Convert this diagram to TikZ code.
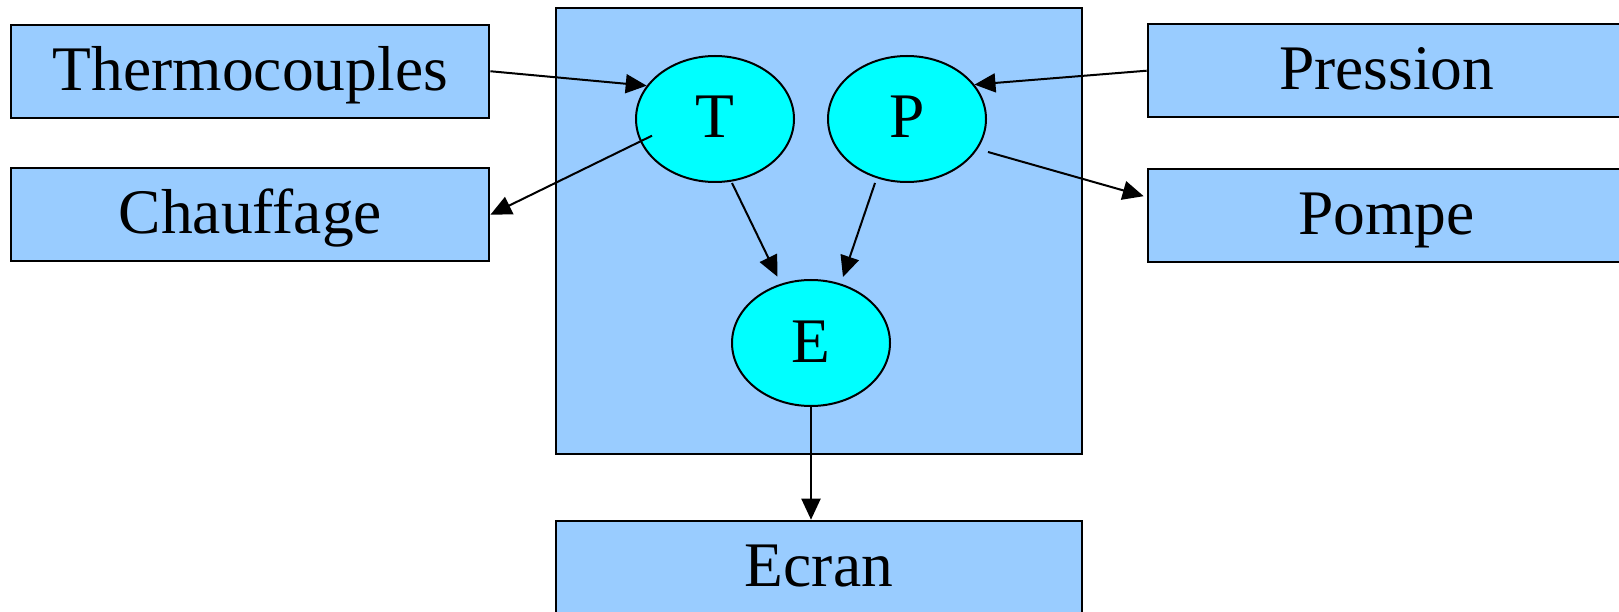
\documentclass[tikz,border=0pt]{standalone}
\usepackage{fontspec}
\setmainfont{Liberation Serif}
\usetikzlibrary{arrows.meta,calc,shapes.geometric}
\definecolor{boxblue}{HTML}{99CCFF}
\definecolor{nodecyan}{HTML}{00FFFF}
\begin{document}
\begin{tikzpicture}[x=1pt,y=-1pt,
  every node/.style={font=\fontsize{63.5}{70}\selectfont, text height=44pt, text depth=6pt, inner sep=0pt},
  device/.style={draw=black, line width=2pt, fill=boxblue, minimum width=478pt, minimum height=93pt},
  panel/.style={draw=black, line width=2pt, fill=boxblue},
  task/.style={ellipse, draw=black, line width=2pt, fill=nodecyan, minimum width=158pt, minimum height=126pt},
  link/.style={line width=2pt, -{Triangle[length=21pt,width=19pt]}}]
  \useasboundingbox (0,0) rectangle (1619,612);
  \clip (0,0) rectangle (1619,612);

  % controller frame and its tasks
  \node[panel, minimum width=525.5pt, minimum height=445.5pt] (frame) at (818.75,230.75) {};
  \node[task] (T) at (715,119) {T};
  \node[task] (P) at (907,119) {P};
  \node[task] (E) at (811,343) {E};

  % peripherals
  \node[device] (Thermo) at (250.4,71.25) {Thermocouples};
  \node[device] (Chauf) at (250.4,214.75) {Chauffage};
  \node[device] (Press) at (1386.7,70.7) {Pression};
  \node[device] (Pompe) at (1386.7,215.3) {Pompe};
  \node[device, minimum width=526pt] (Ecran) at (818.9,567.2) {Ecran};

  % data flow
  \draw[link] (Thermo.east) -- (T.154);
  \draw[link] ($(T.center)+(-63,16.7)$) -- (Chauf.east);
  \draw[link] (Press.west) -- (P.27.6);
  \draw[link] ($(P.center)+(81,33)$) -- ($(Pompe.north west)+(-3,28.4)$);
  \draw[link] ($(T.center)+(17,64)$) -- ($(E.center)+(-33.5,-66.3)$);
  \draw[link] ($(P.center)+(-32,64)$) -- ($(E.center)+(32,-66)$);
  \draw[link] (E.south) -- (E.south |- Ecran.north);
\end{tikzpicture}
\end{document}
